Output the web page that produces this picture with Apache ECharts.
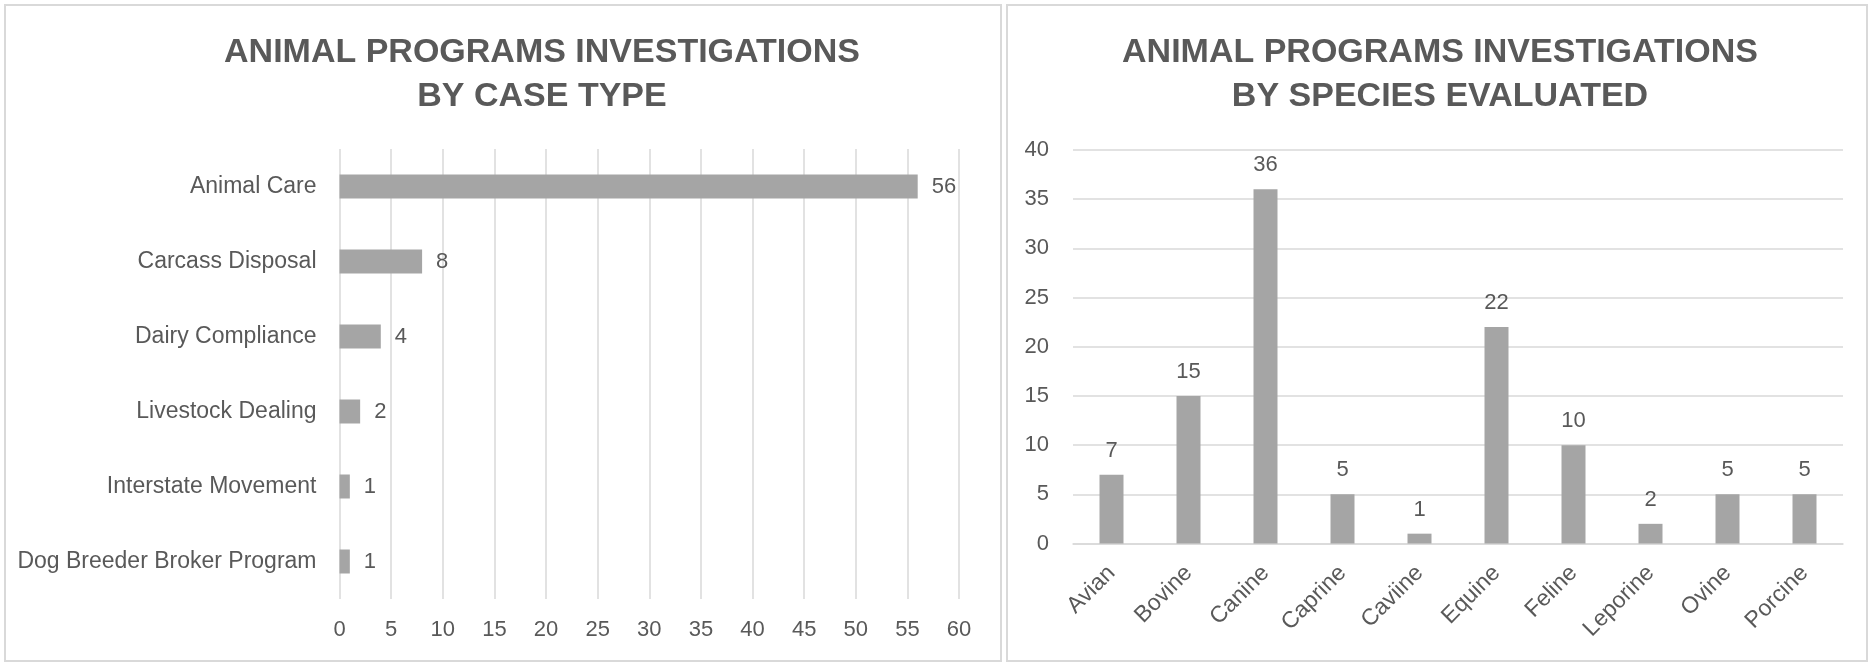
<!DOCTYPE html>
<html>
<head>
<meta charset="utf-8">
<title>Animal Programs Investigations</title>
<script src="https://cdn.jsdelivr.net/npm/echarts@6/dist/echarts.min.js"></script>
<style>
  html, body { margin: 0; padding: 0; background: #ffffff; }
  #chart { width: 1871px; height: 663px; }
</style>
</head>
<body>
<div id="chart"></div>
<script>
// Investigations by case type (horizontal bars, top to bottom)
const caseTypes = ['Animal Care', 'Carcass Disposal', 'Dairy Compliance', 'Livestock Dealing', 'Interstate Movement', 'Dog Breeder Broker Program'];
const caseCounts = [56, 8, 4, 2, 1, 1];

// Investigations by species evaluated (vertical bars, left to right)
const species = ['Avian', 'Bovine', 'Canine', 'Caprine', 'Caviine', 'Equine', 'Feline', 'Leporine', 'Ovine', 'Porcine'];
const speciesCounts = [7, 15, 36, 5, 1, 22, 10, 2, 5, 5];

// Value-axis ranges
const caseAxis = { min: 0, max: 60, interval: 5 };
const speciesAxis = { min: 0, max: 40, interval: 5 };

const titleCase = 'ANIMAL PROGRAMS INVESTIGATIONS\nBY CASE TYPE';
const titleSpecies = 'ANIMAL PROGRAMS INVESTIGATIONS\nBY SPECIES EVALUATED';

const TEXT = '#595959';
const GRID = '#d9d9d9';
const BAR = '#a5a5a5';
const LABEL_FONT = '"Liberation Sans", Arial, sans-serif';
const TITLE_FONT = '"Liberation Sans", Arial, sans-serif';
const NUMBER_SIZE = 22;   // tick and value labels
const WORD_SIZE = 23;     // category names

const chart = echarts.init(document.getElementById('chart'), null, { renderer: 'canvas' });

const titleStyle = {
  color: TEXT,
  fontFamily: TITLE_FONT,
  fontWeight: 'bold',
  fontSize: 34,
  lineHeight: 44,
  align: 'center'
};

const numberStyle = { color: TEXT, fontFamily: LABEL_FONT, fontSize: NUMBER_SIZE };
const wordStyle = { color: TEXT, fontFamily: LABEL_FONT, fontSize: WORD_SIZE };

chart.setOption({
  backgroundColor: '#ffffff',
  animation: false,
  graphic: [
    {
      type: 'rect', silent: true, z: -10,
      shape: { x: 5, y: 5, width: 996, height: 656 },
      style: { fill: 'none', stroke: GRID, lineWidth: 2 }
    },
    {
      type: 'rect', silent: true, z: -10,
      shape: { x: 1007, y: 5, width: 860, height: 656 },
      style: { fill: 'none', stroke: GRID, lineWidth: 2 }
    }
  ],
  title: [
    { text: titleCase, left: 537, top: 26, textAlign: 'center', textStyle: titleStyle },
    { text: titleSpecies, left: 1435, top: 26, textAlign: 'center', textStyle: titleStyle }
  ],
  grid: [
    { left: 339.5, right: 912, top: 149, bottom: 64, containLabel: false },
    { left: 1073, right: 28, top: 150, bottom: 119.5, containLabel: false }
  ],
  xAxis: [
    {
      gridIndex: 0, type: 'value',
      min: caseAxis.min, max: caseAxis.max, interval: caseAxis.interval,
      axisLine: { show: false }, axisTick: { show: false },
      splitLine: { show: true, lineStyle: { color: GRID, width: 1.5 } },
      axisLabel: Object.assign({ margin: 20 }, numberStyle)
    },
    {
      gridIndex: 1, type: 'category', data: species,
      axisLine: { show: true, lineStyle: { color: GRID, width: 1.5 } },
      axisTick: { show: false },
      axisLabel: Object.assign({ rotate: 45, margin: 26, interval: 0 }, wordStyle)
    }
  ],
  yAxis: [
    {
      gridIndex: 0, type: 'category', data: caseTypes, inverse: true,
      axisLine: { show: false }, axisTick: { show: false },
      axisLabel: Object.assign({ margin: 23 }, wordStyle)
    },
    {
      gridIndex: 1, type: 'value',
      min: speciesAxis.min, max: speciesAxis.max, interval: speciesAxis.interval,
      axisLine: { show: false }, axisTick: { show: false },
      splitLine: { show: true, lineStyle: { color: GRID, width: 1.5 } },
      axisLabel: Object.assign({ margin: 24 }, numberStyle)
    }
  ],
  series: [
    {
      type: 'bar', xAxisIndex: 0, yAxisIndex: 0,
      data: caseCounts, barWidth: 24,
      itemStyle: { color: BAR },
      label: Object.assign({ show: true, position: 'right', distance: 14 }, numberStyle)
    },
    {
      type: 'bar', xAxisIndex: 1, yAxisIndex: 1,
      data: speciesCounts, barWidth: 24,
      itemStyle: { color: BAR },
      label: Object.assign({ show: true, position: 'top', distance: 13 }, numberStyle)
    }
  ]
});
</script>
</body>
</html>
